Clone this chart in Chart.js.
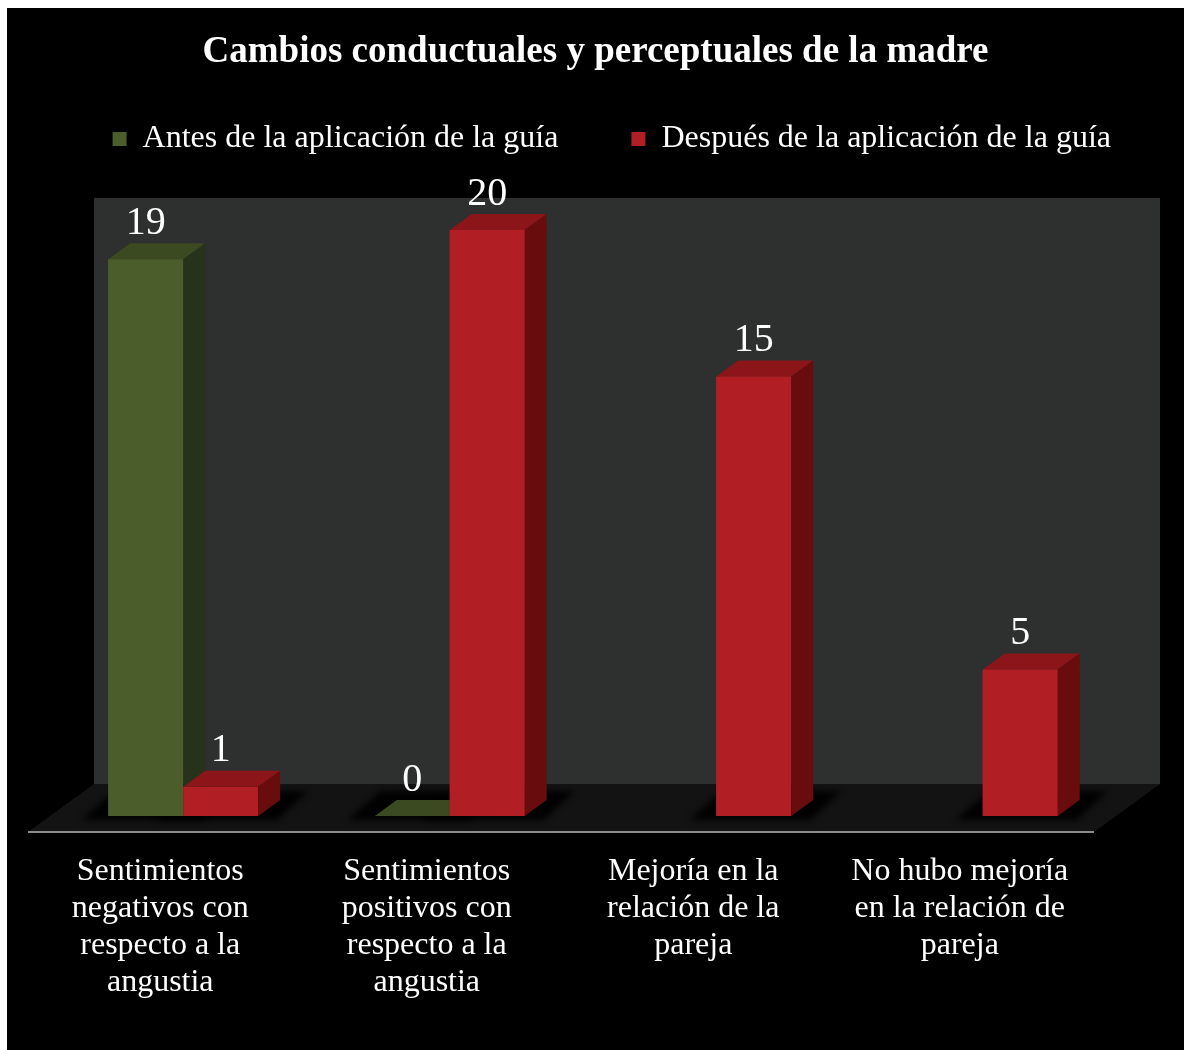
<!DOCTYPE html>
<html>
<head>
<meta charset="utf-8">
<script src="https://cdn.jsdelivr.net/npm/chart.js@4.4.1/dist/chart.umd.min.js"></script>
<style>
  html, body { margin: 0; background: #fff; }
  #chart { position: absolute; left: 7px; top: 8px; background: #000; }
</style>
</head>
<body>
<canvas id="chart" width="1177" height="1042"></canvas>
<script>
const categories = [
  ['Sentimientos', 'negativos con', 'respecto a la', 'angustia'],
  ['Sentimientos', 'positivos con', 'respecto a la', 'angustia'],
  ['Mejoría en la', 'relación de la', 'pareja'],
  ['No hubo mejoría', 'en la relación de', 'pareja'],
];
const seriesNames = ['Antes de la aplicación de la guía', 'Después de la aplicación de la guía'];
const antes = [19, 0, null, null];
const despues = [1, 20, 15, 5];
const wallTop = 20;

// colours for the three visible faces of each 3D bar
const shades = [
  { front: '#4b5d2b', top: '#3b4a21', side: '#27321a' },
  { front: '#b11f24', top: '#8b1519', side: '#690c0d' },
];
const DX = 22, DY = -16; // depth of one bar in pixels
const yMax = 22.22;      // leaves room above the back wall

function poly(ctx, pts, fill) {
  ctx.beginPath();
  ctx.moveTo(pts[0][0], pts[0][1]);
  pts.slice(1).forEach((p) => ctx.lineTo(p[0], p[1]));
  ctx.closePath();
  ctx.fillStyle = fill;
  ctx.fill();
}

const stage3d = {
  id: 'stage3d',
  beforeDatasetsDraw(chart) {
    const { ctx, chartArea: { left, right, bottom }, scales: { y } } = chart;
    const top = y.getPixelForValue(wallTop);
    ctx.save();
    // back wall and floor
    poly(ctx, [[left + 2 * DX, top + 2 * DY], [right + 2 * DX, top + 2 * DY],
      [right + 2 * DX, bottom + 2 * DY], [left + 2 * DX, bottom + 2 * DY]], '#2e302f');
    poly(ctx, [[left - DX, bottom - DY], [right - DX, bottom - DY],
      [right + 2 * DX, bottom + 2 * DY], [left + 2 * DX, bottom + 2 * DY]], '#131313');
    ctx.strokeStyle = '#8c8c8c';
    ctx.lineWidth = 2;
    ctx.beginPath();
    ctx.moveTo(left - DX, bottom - DY);
    ctx.lineTo(right - DX, bottom - DY);
    ctx.stroke();
    // soft shadows on the floor
    ctx.filter = 'blur(3px)';
    chart.data.datasets.forEach((ds, i) => {
      chart.getDatasetMeta(i).data.forEach((bar, j) => {
        if (ds.data[j] == null) return;
        const x0 = bar.x - bar.width / 2, x1 = bar.x + bar.width / 2;
        poly(ctx, [[x0 - 27, bottom + 4], [x1 + 19, bottom + 4],
          [x1 + 50, bottom - 25], [x0 + 6, bottom - 25]], 'rgba(0,0,0,0.95)');
      });
    });
    ctx.restore();
  },
  afterDatasetsDraw(chart) {
    const { ctx } = chart;
    ctx.save();
    // draw each series in order so the right bar hides the left bar's side
    chart.data.datasets.forEach((ds, i) => {
      const c = shades[i];
      chart.getDatasetMeta(i).data.forEach((bar, j) => {
        if (ds.data[j] == null) return;
        const x0 = bar.x - bar.width / 2, x1 = bar.x + bar.width / 2;
        const t = bar.y, b = bar.base;
        bar.draw(ctx);
        poly(ctx, [[x0, t], [x1, t], [x1 + DX, t + DY], [x0 + DX, t + DY]], c.top);
        poly(ctx, [[x1, t], [x1 + DX, t + DY], [x1 + DX, b + DY], [x1, b]], c.side);
      });
    });
    // value labels
    ctx.fillStyle = '#fff';
    ctx.font = '40px "Liberation Serif"';
    ctx.textAlign = 'center';
    ctx.textBaseline = 'middle';
    chart.data.datasets.forEach((ds, i) => {
      chart.getDatasetMeta(i).data.forEach((bar, j) => {
        if (ds.data[j] == null) return;
        ctx.fillText(String(ds.data[j]), bar.x, bar.y - 36);
      });
    });
    ctx.restore();
  },
};

new Chart(document.getElementById('chart'), {
  type: 'bar',
  data: {
    labels: categories,
    datasets: [
      { label: seriesNames[0], data: antes, backgroundColor: shades[0].front, borderWidth: 0 },
      { label: seriesNames[1], data: despues, backgroundColor: shades[1].front, borderWidth: 0 },
    ],
  },
  options: {
    responsive: false,
    animation: false,
    events: [],
    categoryPercentage: 0.5625,
    barPercentage: 1,
    plugins: {
      tooltip: { enabled: false },
      title: {
        display: true,
        text: 'Cambios conductuales y perceptuales de la madre',
        color: '#fff',
        font: { family: 'Liberation Serif', size: 37, weight: 'bold', lineHeight: 1.2 },
        padding: { top: 21.8, bottom: -24.2 },
      },
      legend: {
        align: 'end',
        labels: {
          color: '#fff',
          font: { family: 'Liberation Serif', size: 32 },
          boxWidth: 14,
          boxHeight: 14,
          padding: 73,
        },
      },
    },
    scales: {
      x: {
        grid: { display: false, drawTicks: false },
        border: { display: false },
        ticks: {
          color: '#fff',
          font: { family: 'Liberation Serif', size: 32, lineHeight: 1.16 },
          padding: 37,
          labelOffset: -23,
          maxRotation: 0,
          autoSkip: false,
        },
        afterFit(scale) { scale.height = 234; },
      },
      y: {
        min: 0,
        max: yMax,
        grid: { display: false },
        border: { display: false },
        ticks: { display: false },
        afterFit(scale) { scale.width = 43; },
      },
      yRight: {
        type: 'linear',
        position: 'right',
        grid: { display: false },
        border: { display: false },
        ticks: { display: false },
        afterFit(scale) { scale.width = 68; },
      },
    },
  },
  plugins: [stage3d],
});
</script>
</body>
</html>
